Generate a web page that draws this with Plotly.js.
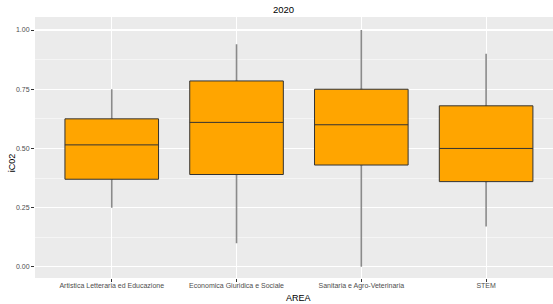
<!DOCTYPE html>
<html>
<head>
<meta charset="utf-8">
<script src="https://cdn.plot.ly/plotly-3.0.1.min.js"></script>
<style>html,body{margin:0;padding:0;background:#fff;}#chart{width:553px;height:304px;}</style>
</head>
<body>
<div id="chart"></div>
<script>
var categories = ["Artistica Letteraria ed Educazione", "Economica Giuridica e Sociale", "Sanitaria e Agro-Veterinaria", "STEM"];
var lowerWhisker = [0.25, 0.10, 0.00, 0.17];
var q1Values = [0.37, 0.39, 0.43, 0.36];
var medianValues = [0.515, 0.61, 0.60, 0.50];
var q3Values = [0.625, 0.785, 0.75, 0.68];
var upperWhisker = [0.75, 0.94, 1.00, 0.90];
var yTickValues = [0, 0.25, 0.5, 0.75, 1];
var yTickLabels = ["0.00", "0.25", "0.50", "0.75", "1.00"];

var whiskers = {
  type: "box", x: categories,
  q1: q1Values, median: medianValues, q3: q3Values,
  lowerfence: lowerWhisker, upperfence: upperWhisker,
  fillcolor: "#8a8a8a",
  line: {color: "#8a8a8a", width: 1.6},
  width: 0.005, whiskerwidth: 0, boxpoints: false, showlegend: false, hoverinfo: "skip"
};

var boxes = {
  type: "box", x: categories,
  q1: q1Values, median: medianValues, q3: q3Values,
  lowerfence: q1Values, upperfence: q3Values,
  fillcolor: "#FFA500",
  line: {color: "#333333", width: 1},
  width: 0.75, whiskerwidth: 0, boxpoints: false, showlegend: false
};

var layout = {
  width: 553, height: 304,
  margin: {l: 35, r: 0, t: 17, b: 26},
  paper_bgcolor: "#ffffff", plot_bgcolor: "#EBEBEB",
  font: {family: "Liberation Sans, Arial, sans-serif", color: "#4d4d4d", size: 7},
  boxmode: "overlay",
  showlegend: false,
  xaxis: {
    type: "category", range: [-0.615, 3.536],
    showgrid: true, gridcolor: "#ffffff", gridwidth: 1.1,
    zeroline: false, showline: false,
    ticks: "outside", ticklen: 3, tickcolor: "#333333", tickwidth: 1,
    ticklabelstandoff: -2,
    tickfont: {size: 7, color: "#4d4d4d"}
  },
  yaxis: {
    range: [-0.047, 1.055],
    tickvals: yTickValues, ticktext: yTickLabels,
    showgrid: true, gridcolor: "#ffffff", gridwidth: 1.1,
    minor: {dtick: 0.125, showgrid: true, gridcolor: "#ffffff", gridwidth: 0.5, ticks: ""},
    zeroline: false, showline: false,
    ticks: "outside", ticklen: 3, tickcolor: "#333333", tickwidth: 1,
    tickfont: {size: 7, color: "#4d4d4d"}
  },
  annotations: [
    {text: "2020", xref: "paper", yref: "paper", x: 0.479, y: 1, yshift: 0, xanchor: "center", yanchor: "bottom", showarrow: false, font: {size: 9.5, color: "#000000"}},
    {text: "AREA", xref: "paper", yref: "paper", x: 0.509, y: 0, yshift: -13, xanchor: "center", yanchor: "top", showarrow: false, font: {size: 9, color: "#000000"}},
    {text: "iC02", xref: "paper", yref: "paper", x: 0, xshift: -23, y: 0.44, xanchor: "center", yanchor: "middle", textangle: -90, showarrow: false, font: {size: 9, color: "#000000"}}
  ]
};

Plotly.newPlot("chart", [whiskers, boxes], layout, {displayModeBar: false, staticPlot: true});
</script>
</body>
</html>
